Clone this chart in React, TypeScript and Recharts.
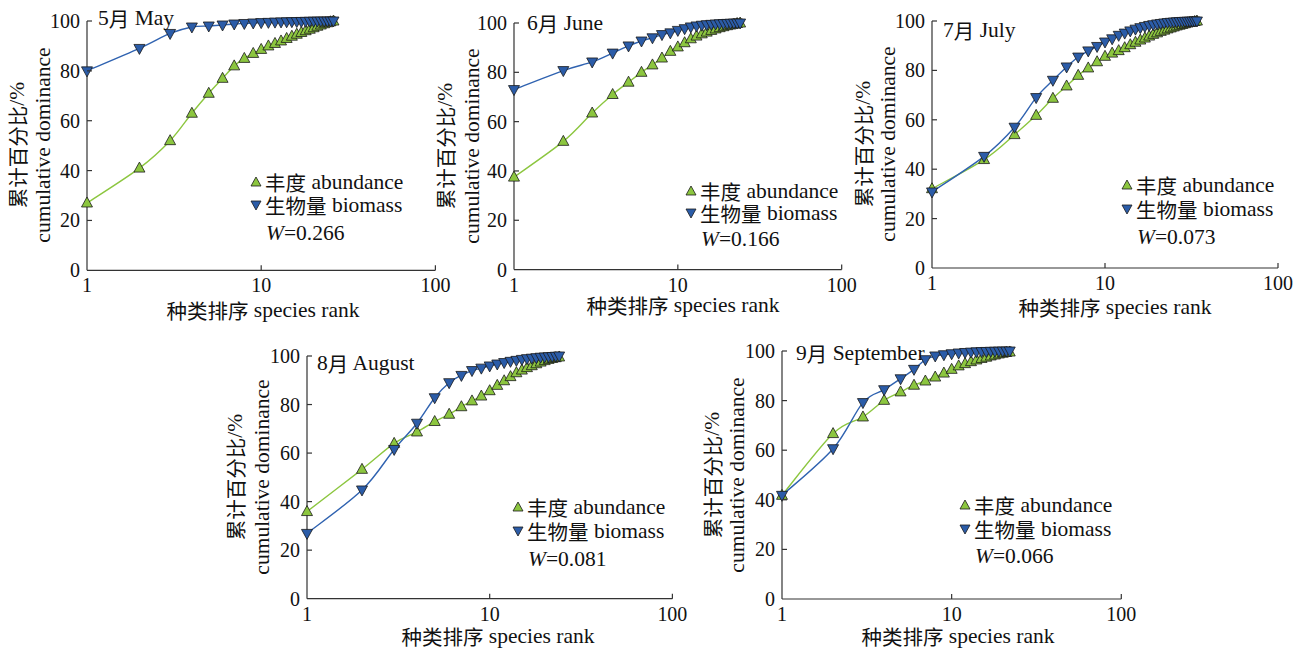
import React from "react";
import { LineChart, Line, XAxis, YAxis } from "recharts";

// ---------- data ----------
const mayAbundance = [27, 41, 52, 63, 71, 77, 82, 85, 87, 88.6, 90, 91, 92, 93, 93.9, 94.7, 95.4, 96.1, 96.7, 97.3, 97.9, 98.4, 98.9, 99.3, 99.7, 100];
const mayBiomass = [80, 89, 95, 97.6, 98, 98.4, 98.8, 99.0, 99.2, 99.35, 99.45, 99.55, 99.62, 99.68, 99.73, 99.78, 99.82, 99.86, 99.89, 99.92, 99.94, 99.96, 99.97, 99.98, 99.99, 100];

const junAbundance = [37.5, 52, 63.5, 71, 76, 80, 83, 85.8, 88.5, 90.3, 92, 93.6, 94.7, 95.6, 96.3, 97, 97.6, 98.1, 98.5, 98.9, 99.2, 99.5, 99.8, 100];
const junBiomass = [73, 80.7, 84.2, 87.8, 90.7, 92.7, 94, 95.3, 96, 97, 97.7, 98.4, 98.8, 99.1, 99.3, 99.45, 99.58, 99.68, 99.77, 99.84, 99.9, 99.95, 99.98, 100];

const julAbundance = [32.1, 43.9, 54, 61.8, 68.7, 73.7, 78, 81, 83.5, 85.7, 87, 88, 89.2, 90.4, 91.4, 92.3, 93.1, 93.9, 94.6, 95.2, 95.8, 96.3, 96.8, 97.2, 97.6, 98, 98.3, 98.6, 98.9, 99.2, 99.4, 99.6, 99.8, 100];
const julBiomass = [30.8, 45.2, 57, 69, 76, 81.4, 85.4, 87.9, 89.7, 91.5, 92.8, 94.2, 95.1, 96, 96.7, 97.3, 97.8, 98.2, 98.5, 98.8, 99, 99.2, 99.35, 99.48, 99.58, 99.67, 99.75, 99.82, 99.87, 99.91, 99.94, 99.97, 99.99, 100];

const augAbundance = [35.9, 53.3, 64, 68.7, 73, 76, 79.1, 81.5, 83.5, 85.7, 87.9, 89.8, 91.5, 93.1, 94.2, 95.2, 96, 96.8, 97.5, 98.1, 98.6, 99, 99.3, 99.6];
const augBiomass = [26.9, 44.8, 61.5, 72.3, 82.8, 89, 92, 94, 95, 95.9, 96.7, 97.3, 97.8, 98.2, 98.6, 98.9, 99.1, 99.3, 99.5, 99.6, 99.7, 99.8, 99.9, 100];

const sepAbundance = [41.8, 66.7, 73.4, 80.1, 83.5, 86.2, 87.9, 89.5, 91.1, 92.6, 94, 94.9, 95.7, 96.4, 97, 97.5, 98, 98.4, 98.8, 99.1, 99.4, 99.6];
const sepBiomass = [41.8, 60.6, 79.2, 84.4, 88.8, 92.6, 96.5, 98, 98.5, 98.9, 99.2, 99.4, 99.55, 99.65, 99.75, 99.82, 99.87, 99.91, 99.94, 99.97, 99.99, 100];

const xTicks = [1, 10, 100];
const yTicks = [0, 20, 40, 60, 80, 100];

const titles = ["5月 May", "6月 June", "7月 July", "8月 August", "9月 September"];
const wValues = ["0.266", "0.166", "0.073", "0.081", "0.066"];
const legendAbundance = "丰度 abundance";
const legendBiomass = "生物量 biomass";
const yTitle1 = "累计百分比/%";
const yTitle2 = "cumulative dominance";
const xTitle = "种类排序 species rank";

// ---------- style ----------
const LATIN = '"Liberation Serif", "Times New Roman", Times, serif';
const CJK = '"Noto Sans CJK SC", "Noto Sans CJK JP", sans-serif';
const GREEN_FILL = "#8cc63f";
const GREEN_LINE = "#8cc63f";
const BLUE_FILL = "#2b5ca8";
const BLUE_LINE = "#2f62b0";
const EDGE = "#1a1a1a";
const AXIS = "#333";
const FS = 20;
const FT = 21.5;

// Catmull-Rom style smoothing (similar to spreadsheet "smoothed line")
const smoothCurve: any = (context: any) => {
  let pts: [number, number][] = [];
  return {
    areaStart() {},
    areaEnd() {},
    lineStart() { pts = []; },
    point(x: number, y: number) { pts.push([+x, +y]); },
    lineEnd() {
      const n = pts.length;
      if (!n) return;
      context.moveTo(pts[0][0], pts[0][1]);
      if (n === 1) return;
      for (let i = 0; i < n - 1; i++) {
        const p0 = pts[Math.max(i - 1, 0)];
        const p1 = pts[i];
        const p2 = pts[i + 1];
        const p3 = pts[Math.min(i + 2, n - 1)];
        const c1x = p1[0] + (p2[0] - p0[0]) / 6;
        const c1y = p1[1] + (p2[1] - p0[1]) / 6;
        const c2x = p2[0] - (p3[0] - p1[0]) / 6;
        const c2y = p2[1] - (p3[1] - p1[1]) / 6;
        context.bezierCurveTo(c1x, c1y, c2x, c2y, p2[0], p2[1]);
      }
    },
  };
};

const runBox: React.CSSProperties = { display: "inline-block", height: 20, lineHeight: "20px", verticalAlign: "top", overflow: "visible" };

// split text into CJK and Latin runs so each gets its own font
const Mixed = ({ s }: { s: string }) => {
  const runs = s.match(/[\u3000-\u9fff\uff00-\uffef]+|[^\u3000-\u9fff\uff00-\uffef]+/g) || [];
  return (
    <>
      {runs.map((r, i) =>
        /[\u3000-\u9fff]/.test(r) ? (
          <span key={i} style={{ ...runBox, fontFamily: CJK, fontSize: FT - 1 }}>{r}</span>
        ) : (
          <span key={i} style={{ ...runBox, fontFamily: LATIN, whiteSpace: "pre" }}>{r}</span>
        )
      )}
    </>
  );
};

const buildData = (a: number[], b: number[]) =>
  a.map((v, i) => ({ r: i + 1, a: v, b: b[i] }));

const TriUp = (props: any) => {
  const { cx, cy } = props;
  if (cx == null || cy == null) return null;
  return (
    <polygon
      points={`${cx},${cy - 6} ${cx - 5.5},${cy + 4} ${cx + 5.5},${cy + 4}`}
      fill={GREEN_FILL}
      stroke={EDGE}
      strokeWidth={0.8}
    />
  );
};
const TriDown = (props: any) => {
  const { cx, cy } = props;
  if (cx == null || cy == null) return null;
  return (
    <polygon
      points={`${cx},${cy + 6} ${cx - 5.5},${cy - 4} ${cx + 5.5},${cy - 4}`}
      fill={BLUE_FILL}
      stroke={EDGE}
      strokeWidth={0.8}
    />
  );
};

const YTick = (props: any) => {
  const { x, y, payload } = props;
  return (
    <g>
      {payload.value !== 0 && <line x1={x} y1={y} x2={x + 5} y2={y} stroke={AXIS} strokeWidth={1.2} />}
      <text x={x - 7} y={y} dy="0.35em" textAnchor="end" style={{ fontFamily: LATIN, fontSize: FS }} fill="#111">
        {payload.value}
      </text>
    </g>
  );
};
const XTick = (props: any) => {
  const { x, y, payload } = props;
  return (
    <g>
      {payload.value !== 1 && <line x1={x} y1={y} x2={x} y2={y - 5} stroke={AXIS} strokeWidth={1.2} />}
      <text x={x} y={y + 22} textAnchor="middle" style={{ fontFamily: LATIN, fontSize: FS }} fill="#111">
        {payload.value}
      </text>
    </g>
  );
};

type PanelCfg = {
  idx: number;
  abundance: number[];
  biomass: number[];
  px0: number; px1: number; py0: number; py1: number;
  titleX: number; titleY: number;
  legX: number; legY: number; legGap: number; wY: number;
  yl1: number; yl2: number;
  xlX: number; xlY: number;
};

const ML = 60, MT = 20, MR = 20, MB = 40;

const Panel = ({ c }: { c: PanelCfg }) => {
  const data = buildData(c.abundance, c.biomass);
  const w = c.px1 - c.px0 + ML + MR;
  const h = c.py1 - c.py0 + MT + MB;
  const yc = (c.py0 + c.py1) / 2;
  const txt: React.CSSProperties = { position: "absolute", fontFamily: LATIN, fontSize: FT, color: "#111", whiteSpace: "nowrap", lineHeight: "20px", height: 20 };
  const rot = (cx: number, s: string) => (
    <div style={{ ...txt, left: cx - 150, top: yc - 10, width: 300, textAlign: "center", transform: "rotate(-90deg)" }}><Mixed s={s} /></div>
  );
  return (
    <>
      <div style={{ position: "absolute", left: c.px0 - ML, top: c.py0 - MT }}>
        <LineChart width={w} height={h} data={data} margin={{ top: MT, right: MR, left: 20, bottom: 10 }}>
          <XAxis
            dataKey="r"
            type="number"
            scale="log"
            domain={[1, 100]}
            ticks={xTicks}
            tickSize={0}
            tickMargin={0}
            tickLine={false}
            tick={<XTick />}
            height={30}
            axisLine={{ stroke: AXIS, strokeWidth: 1.2 }}
            interval={0}
          />
          <YAxis
            type="number"
            domain={[0, 100]}
            ticks={yTicks}
            tickSize={0}
            tickMargin={0}
            tickLine={false}
            tick={<YTick />}
            width={40}
            axisLine={{ stroke: AXIS, strokeWidth: 1.2 }}
            interval={0}
          />
          <Line type={smoothCurve} dataKey="a" stroke={GREEN_LINE} strokeWidth={1.4} dot={(p: any) => <TriUp key={`a${p.index}`} {...p} />} isAnimationActive={false} />
          <Line type={smoothCurve} dataKey="b" stroke={BLUE_LINE} strokeWidth={1.4} dot={(p: any) => <TriDown key={`b${p.index}`} {...p} />} isAnimationActive={false} />
        </LineChart>
      </div>
      <div style={{ ...txt, left: c.titleX, top: c.titleY - 10 }}><Mixed s={titles[c.idx]} /></div>
      <svg style={{ position: "absolute", left: c.legX - 6, top: c.legY - 6 }} width={12} height={12 + c.legGap}>
        <polygon points={`6,1 1,10 11,10`} fill={GREEN_FILL} stroke={EDGE} strokeWidth={0.8} />
        <polygon points={`6,${c.legGap + 11} 1,${c.legGap + 2} 11,${c.legGap + 2}`} fill={BLUE_FILL} stroke={EDGE} strokeWidth={0.8} />
      </svg>
      <div style={{ ...txt, left: c.legX + 9, top: c.legY - 10 }}><Mixed s={legendAbundance} /></div>
      <div style={{ ...txt, left: c.legX + 9, top: c.legY + c.legGap - 10 }}><Mixed s={legendBiomass} /></div>
      <div style={{ ...txt, left: c.legX + 10, top: c.wY - 10 }}>
        <i>W</i>={wValues[c.idx]}
      </div>
      {rot(c.yl1, yTitle1)}
      {rot(c.yl2, yTitle2)}
      <div style={{ ...txt, left: c.xlX - 150, top: c.xlY - 10, width: 300, textAlign: "center" }}><Mixed s={xTitle} /></div>
    </>
  );
};

const panels: PanelCfg[] = [
  { idx: 0, abundance: mayAbundance, biomass: mayBiomass, px0: 87.3, px1: 435.7, py0: 20.7, py1: 270, titleX: 98, titleY: 18, legX: 256, legY: 182, legGap: 23, wY: 233, yl1: 17, yl2: 43, xlX: 263, xlY: 310 },
  { idx: 1, abundance: junAbundance, biomass: junBiomass, px0: 514, px1: 841.7, py0: 22.7, py1: 269.3, titleX: 527, titleY: 23, legX: 691, legY: 191, legGap: 22, wY: 239, yl1: 445, yl2: 472, xlX: 683, xlY: 305 },
  { idx: 2, abundance: julAbundance, biomass: julBiomass, px0: 932.3, px1: 1278.3, py0: 20.7, py1: 267.7, titleX: 943, titleY: 30, legX: 1127, legY: 185, legGap: 24, wY: 237, yl1: 863, yl2: 888, xlX: 1115, xlY: 307 },
  { idx: 3, abundance: augAbundance, biomass: augBiomass, px0: 307.3, px1: 672.7, py0: 356, py1: 598.7, titleX: 317, titleY: 363, legX: 518, legY: 507, legGap: 24, wY: 559, yl1: 235, yl2: 262, xlX: 498, xlY: 636 },
  { idx: 4, abundance: sepAbundance, biomass: sepBiomass, px0: 781.7, px1: 1121, py0: 350.7, py1: 598.7, titleX: 796, titleY: 353, legX: 965, legY: 505, legGap: 24, wY: 556, yl1: 712, yl2: 737, xlX: 958, xlY: 636 },
];

export default function App() {
  return (
    <div style={{ position: "absolute", left: 0, top: 0, width: 1306, height: 652, background: "#fff", overflow: "hidden" }}>
      {panels.map((c) => (
        <Panel key={c.idx} c={c} />
      ))}
    </div>
  );
}
